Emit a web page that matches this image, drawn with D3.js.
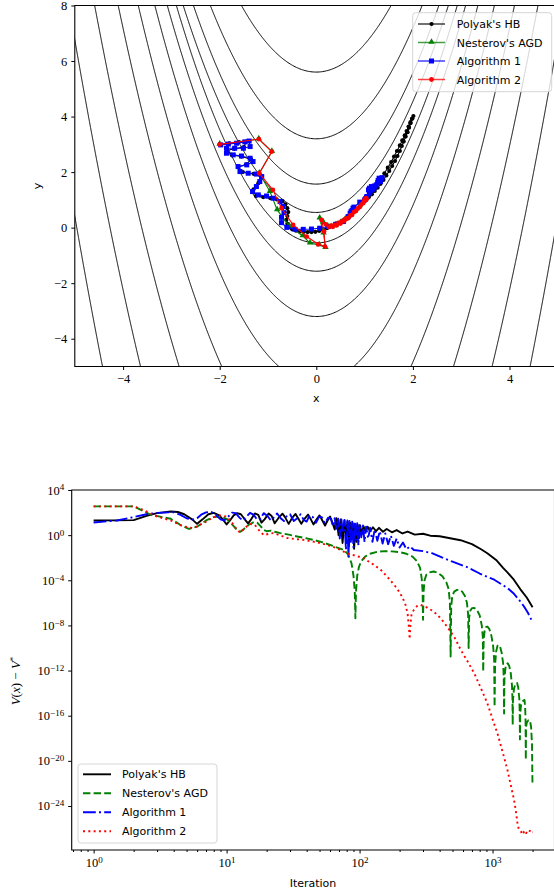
<!DOCTYPE html>
<html>
<head>
<meta charset="utf-8">
<script src="https://cdn.jsdelivr.net/npm/d3@7"></script>
<style>
  body { margin: 0; background: #fff; }
  svg { display: block; }
  .axis text { font-family: "Liberation Serif", "DejaVu Serif", serif; font-size: 12.5px; fill: #000; }
  .axis line { stroke: #000; }
  .label { font-family: "DejaVu Sans", sans-serif; font-size: 11px; fill: #000; }
  .legend text { font-family: "DejaVu Sans", sans-serif; font-size: 11px; fill: #000; }
</style>
</head>
<body>
<script>
// CHART DATA

// Contour levels of V(x, y) = (1 - x)^2 + 100 (y - x^2)^2
const contourLevels = [31, 247, 1025, 3140, 7810, 17080, 33300, 60500];

// Iterates in the (x, y) plane
const hbPath = [[-2.0,3.0],[-1.8,3.04],[-1.6,3.08],[-1.45,3.1],[-1.5,2.9],[-1.7,2.84],[-1.85,2.78],[-1.75,2.62],
  [-1.55,2.56],[-1.35,2.46],[-1.45,2.28],[-1.62,2.18],[-1.52,2.0],[-1.3,1.94],[-1.15,1.85],[-1.2,1.6],[-1.3,1.38],
  [-1.25,1.14],[-1.1,1.1],[-0.95,1.06],[-0.82,1.02],[-0.7,0.96],[-0.64,0.84],[-0.6,0.7],[-0.58,0.56],[-0.6,0.42],
  [-0.62,0.28],[-0.6,0.14],[-0.56,0.02],[-0.5,-0.06],[-0.42,-0.11],[-0.34,-0.14],[-0.26,-0.15],[-0.18,-0.16],
  [-0.1,-0.16],[-0.02,-0.15],[0.06,-0.12],[0.14,-0.08],[0.22,-0.02],[0.32,0.06],[0.45,0.17],[0.58,0.3],[0.7,0.46],
  [0.82,0.64],[0.94,0.86],[1.04,1.06],[1.12,1.24],[1.2,1.42],[1.27,1.6],[1.34,1.78],[1.41,1.96],[1.48,2.16],
  [1.55,2.36],[1.61,2.56],[1.67,2.76],[1.73,2.96],[1.78,3.14],[1.83,3.32],[1.87,3.48],[1.91,3.64],[1.95,3.8],
  [1.98,3.92],[2.01,4.02],[1.99,3.93],[1.95,3.76],[1.92,3.6],[1.89,3.44],[1.85,3.28],[1.81,3.1],[1.77,2.94],
  [1.73,2.76],[1.68,2.58],[1.63,2.4],[1.57,2.22],[1.51,2.04],[1.45,1.88],[1.39,1.72],[1.33,1.58],[1.27,1.44],
  [1.21,1.32],[1.15,1.2],[1.09,1.1],[1.04,1.04],[1.0,1.0]];
const agdPath = [[-2.0,3.0],[-1.19,3.19],[-0.92,2.74],[-1.18,1.96],[-0.96,1.3],[-0.81,0.64],[-0.56,0.06],
  [-0.28,-0.3],[-0.13,-0.56],[0.06,-0.62],[0.19,-0.72],[0.15,-0.2],[0.07,0.34],[0.15,0.18],[0.24,0.04],[0.32,0.03],
  [0.4,0.1],[0.5,0.18],[0.6,0.3],[0.7,0.44],[0.8,0.6],[0.9,0.78],[1.0,0.98],[1.0,1.0]];
const alg1Path = [[-1.98,2.98],[-1.82,3.01],[-1.65,3.04],[-1.48,3.09],[-1.39,3.12],[-1.37,2.92],[-1.51,2.86],
  [-1.69,2.86],[-1.86,2.86],[-1.86,2.68],[-1.72,2.62],[-1.55,2.58],[-1.37,2.5],[-1.31,2.38],[-1.44,2.26],[-1.62,2.2],
  [-1.58,2.02],[-1.41,1.96],[-1.24,1.93],[-1.13,1.84],[-1.17,1.66],[-1.24,1.48],[-1.32,1.3],[-1.2,1.18],[-1.03,1.14],
  [-0.89,1.06],[-0.75,0.94],[-0.69,0.76],[-0.67,0.54],[-0.72,0.37],[-0.72,0.18],[-0.61,0.01],[-0.44,-0.06],
  [-0.27,-0.06],[-0.1,-0.05],[0.07,-0.02],[0.25,0.04],[0.4,0.12],[0.56,0.22],[0.66,0.4],[0.74,0.62],[0.7,0.52],
  [0.76,0.7],[0.72,0.58],[0.78,0.74],[0.9,0.92],[1.04,1.1],[1.08,1.36],[1.14,1.48],[1.1,1.42],[1.16,1.4],[1.2,1.46],
  [1.27,1.62],[1.32,1.72],[1.36,1.8],[1.34,1.74],[1.28,1.7],[1.33,1.66],[1.3,1.78],[1.24,1.54],[1.2,1.5],[1.16,1.38],
  [1.12,1.32],[1.1,1.24],[1.05,1.12],[1.02,1.04],[1.0,1.0]];
const alg2Path = [[-2.0,3.0],[-1.19,3.19],[-0.92,2.74],[-1.18,1.96],[-0.9,1.36],[-0.72,0.7],[-0.48,0.1],
  [-0.2,-0.32],[0.04,-0.6],[0.18,-0.68],[0.16,-0.14],[0.11,0.28],[0.2,0.12],[0.26,0.02],[0.3,0.07],[0.34,0.03],
  [0.38,0.1],[0.42,0.08],[0.46,0.17],[0.5,0.15],[0.54,0.24],[0.58,0.24],[0.62,0.33],[0.66,0.34],[0.7,0.43],
  [0.74,0.46],[0.78,0.56],[0.82,0.6],[0.86,0.69],[0.9,0.74],[0.93,0.83],[0.97,0.88],[1.0,0.96],[1.04,1.02],
  [1.03,1.06],[1.01,1.01],[1.0,1.0]];

// V(x) - V* per iteration, stored as [iteration, log10 of the gap]
const hbGap = [[1,1.3],[2,1.33],[2.5,1.7],[3,1.95],[3.8,2.09],[4.3,2.05],[4.8,1.85],[5.5,1.4],[6,1.0],[6.6,1.4],
  [7.3,1.85],[8,1.97],[8.8,1.75],[9.5,1.3],[10,0.95],[10.6,1.3],[11.3,1.75],[12,1.95],[12.8,1.85],[13.6,1.45],
  [14.5,1.05],[15.3,1.4],[16.3,1.92],[17.3,1.8],[18.3,1.1],[19.3,1.4],[20.7,1.92],[21.8,1.7],[23,1.05],[24.5,1.5],
  [26.3,1.9],[27.5,1.6],[29.3,1.0],[31,1.5],[33,1.88],[34.5,1.5],[36.5,1.0],[38.5,1.45],[41,1.82],[43,1.4],
  [45,0.95],[47.5,1.4],[50,1.75],[52.5,1.3],[55,0.85],[57.5,1.3],[60,1.65],[62.5,1.1],[65,0.5],[67,1.5],[69.5,0.0],
  [72,1.4],[74.5,-0.7],[77,1.3],[79,-0.2],[81,1.2],[83,-1.0],[85,1.1],[87,-0.4],[89,1.05],[91,-1.2],[93,0.95],
  [95,-0.6],[97,0.9],[99,-0.3],[101,0.85],[104,0.1],[107,0.8],[111,0.3],[115,0.75],[120,0.35],[126,0.7],[133,0.35],
  [140,0.65],[150,0.3],[160,0.55],[175,0.25],[190,0.45],[210,0.15],[230,0.32],[260,0.05],[300,0.12],[340,-0.05],
  [400,-0.1],[480,-0.28],[575,-0.45],[700,-0.8],[820,-1.25],[913,-1.6],[1000,-1.95],[1076,-2.25],[1200,-2.9],
  [1294,-3.3],[1446,-3.95],[1620,-4.8],[1813,-5.55],[2000,-6.38]];
const agdGap = [[1,2.55],[2,2.55],[2.7,1.8],[3.8,1.45],[4.5,0.9],[5.2,0.55],[6,0.75],[7,1.3],[8,1.6],[9,1.65],
  [10,1.45],[11,0.95],[12,0.45],[12.7,0.3],[13.5,0.55],[14.6,0.9],[16,1.15],[17,1.1],[18,0.8],[19,0.45],[20,0.35],
  [21.5,0.4],[23,0.3],[25.4,0.18],[30,0.02],[34,-0.12],[40,-0.28],[45,-0.42],[52,-0.62],[60,-0.86],[68,-1.1],
  [76,-1.3],[82,-1.7],[87,-2.5],[90,-3.6],[92,-5],[93,-7.36],[94,-5],[96,-3.6],[99,-2.8],[103,-2.3],[110,-1.9],
  [120,-1.65],[135,-1.48],[155,-1.42],[175,-1.44],[200,-1.5],[225,-1.65],[250,-1.9],[270,-2.3],[285,-2.9],
  [293,-3.8],[298,-5],[300,-7.5],[303,-5],[308,-4],[318,-3.5],[335,-3.3],[361,-3.22],[390,-3.35],[420,-3.65],
  [450,-4.2],[468,-4.8],[478,-6],[484,-10.76],[489,-6.3],[498,-5.4],[515,-5.0],[540,-4.85],[565,-4.85],[590,-5.0],
  [620,-5.4],[642,-6.0],[655,-7.0],[661,-10.0],[667,-7.3],[680,-6.7],[700,-6.47],[730,-6.45],[760,-6.6],[800,-7.1],
  [830,-8.0],[845,-9.0],[851,-12.1],[858,-9.2],[872,-8.5],[890,-8.15],[915,-8.1],[945,-8.3],[980,-8.9],[1010,-9.8],
  [1028,-11],[1036,-15.2],[1045,-11.5],[1065,-10.3],[1090,-9.8],[1110,-9.73],[1140,-9.9],[1170,-10.4],[1200,-11.3],
  [1214,-12.5],[1221,-15.8],[1229,-12.8],[1250,-11.8],[1275,-11.4],[1300,-11.35],[1335,-11.6],[1370,-12.2],
  [1400,-13.3],[1412,-14.5],[1418,-16.8],[1425,-14.6],[1450,-13.6],[1490,-13.15],[1530,-13.1],[1560,-13.5],
  [1590,-14.5],[1600,-15.6],[1607,-18.1],[1615,-15.8],[1640,-15],[1690,-14.7],[1740,-14.6],[1760,-15.3],
  [1772,-16.5],[1779,-19.9],[1787,-17],[1810,-16.6],[1860,-16.4],[1910,-16.4],[1950,-17],[1980,-18.5],[1997,-22.1]];
const alg1Gap = [[1,1.12],[1.5,1.3],[2,1.6],[2.5,1.85],[3,1.97],[4,2.04],[4.5,1.8],[5,1.5],[5.5,1.38],[6,1.5],
  [6.5,1.85],[7,2.02],[7.7,2.05],[8.3,1.8],[9,1.4],[9.6,1.3],[10.3,1.65],[11,2.0],[11.7,1.95],[12.5,1.55],[13.2,1.3],
  [14,1.6],[15,1.98],[16,1.8],[17,1.35],[18,1.45],[19,1.95],[20.3,1.7],[21.5,1.3],[22.8,1.6],[24,1.92],[25.5,1.5],
  [27,1.25],[28.5,1.75],[30,1.85],[32,1.25],[34,1.5],[36,1.85],[38,1.35],[40,1.2],[42,1.75],[44.5,1.6],[47,1.1],
  [49.5,1.6],[52,1.6],[55,1.05],[58,1.55],[61,1.45],[63,0.8],[65,1.5],[67,0.4],[69,1.45],[71,-0.3],[73,1.4],
  [75,0.2],[77,1.35],[79,-1.3],[81,1.3],[82.5,-2.0],[84,1.25],[86,-0.6],[88,1.2],[90,-1.1],[92,1.15],[94,-0.4],
  [96,1.05],[98,-0.9],[100,1.0],[103,-0.2],[106,0.85],[109,-0.6],[112,0.75],[116,-0.3],[120,0.65],[125,-0.6],
  [130,0.5],[136,-0.5],[142,0.35],[149,-0.75],[156,0.15],[164,-0.8],[172,-0.05],[181,-0.95],[190,-0.3],[200,-1.1],
  [212,-0.65],[225,-1.25],[240,-1.0],[256,-1.32],[300,-1.42],[350,-1.6],[420,-2.0],[500,-2.35],[650,-2.85],
  [800,-3.4],[1030,-3.95],[1300,-4.7],[1450,-5.2],[1600,-5.8],[1720,-6.3],[1850,-6.9],[2000,-7.72]];
const alg2Gap = [[1,2.55],[2,2.55],[2.4,2.2],[3,1.65],[3.8,1.3],[4.7,0.78],[5.6,0.62],[6.7,1.06],[8,1.6],[9,1.75],
  [10,1.65],[11,1.1],[12,0.45],[12.7,0.2],[13.6,0.6],[15,1.0],[16.3,0.9],[17.5,0.45],[19,0.0],[20.5,0.1],[22.4,0.18],
  [25,0.0],[28.5,-0.25],[33,-0.35],[38,-0.42],[45,-0.58],[50.7,-0.71],[60,-0.95],[67.5,-1.15],[80,-1.6],[95,-1.85],
  [107,-2.04],[128,-2.63],[145,-3.1],[161,-3.67],[191,-4.7],[210,-5.5],[222,-6.2],[230,-7.0],[236,-8.4],[238,-9.2],
  [241,-8.0],[246,-7.0],[256,-6.62],[270,-6.3],[287,-6.18],[320,-6.4],[361,-6.77],[410,-7.4],[455,-8.1],[520,-9.1],
  [577,-10.17],[650,-11.2],[728,-12.23],[820,-13.6],[914,-14.9],[1000,-16.3],[1088,-17.55],[1190,-19.2],
  [1294,-20.8],[1380,-22.3],[1452,-23.47],[1500,-24.5],[1540,-25.53],[1580,-26.1],[1632,-26.25],[1660,-26.4],
  [1690,-26.2],[1720,-26.35],[1750,-26.2],[1790,-26.4],[1830,-26.25],[1870,-26.35],[1910,-26.2],[1950,-26.4],
  [2000,-26.3]];

const methodNames = ["Polyak's HB", "Nesterov's AGD", "Algorithm 1", "Algorithm 2"];

// Tick values
const planeXTicks = [-4, -2, 0, 2, 4];
const planeYTicks = [-4, -2, 0, 2, 4, 6, 8];
const gapXTicks = [1, 10, 100, 1000];
const gapXMinorTicks = [0.7, 0.8, 0.9, 2, 3, 4, 5, 6, 7, 8, 9, 20, 30, 40, 50, 60, 70, 80, 90,
  200, 300, 400, 500, 600, 700, 800, 900, 2000];
const gapYTickExps = [4, 0, -4, -8, -12, -16, -20, -24];

// LAYOUT AND STYLE
const width = 554;
const height = 892;
const plane = {left: 74.8, right: 557.8, top: 5.5, bottom: 366.5};
const gap = {left: 71.7, right: 554.5, top: 490, bottom: 850};
const colors = ['#000000', '#008000', '#0000ff', '#ff0000'];
const dashes = [null, '7.4,3.2', '12.8,3.2,2,3.2', '2,3.3'];

// Function whose level sets are drawn
var rosenbrock = function(x, y){
  return (1 - x) * (1 - x) + 100 * (y - x * x) * (y - x * x);
}

var minus = function(v){ return v < 0 ? '\u2212' + Math.abs(v) : String(v); }

var svg = d3.select('body').append('svg')
  .attr('width', width)
  .attr('height', height);

var defs = svg.append('defs');
defs.append('clipPath').attr('id', 'clipPlane').append('rect')
  .attr('x', plane.left).attr('y', plane.top)
  .attr('width', plane.right - plane.left).attr('height', plane.bottom - plane.top);
defs.append('clipPath').attr('id', 'clipGap').append('rect')
  .attr('x', gap.left).attr('y', gap.top)
  .attr('width', gap.right - gap.left).attr('height', gap.bottom - gap.top);

// ---------- TOP: level sets and iterates ----------
var xPlane = d3.scaleLinear().domain([-5, 5]).range([plane.left, plane.right]);
var yPlane = d3.scaleLinear().domain([-5, 8]).range([plane.bottom, plane.top]);

// sample the function on a grid a bit larger than the axes, then clip
const nx = 440, ny = 560;
const gx0 = -5.5, gx1 = 5.5, gy0 = -5.5, gy1 = 8.5;
const gdx = (gx1 - gx0) / (nx - 1), gdy = (gy1 - gy0) / (ny - 1);
var grid = new Float64Array(nx * ny);
for (var j = 0; j < ny; j++) {
  for (var i = 0; i < nx; i++) {
    grid[j * nx + i] = rosenbrock(gx0 + i * gdx, gy0 + j * gdy);
  }
}
var isolines = d3.contours().size([nx, ny]).thresholds(contourLevels)(grid);
var gridToPixels = d3.geoTransform({
  point: function(gx, gy){
    this.stream.point(xPlane(gx0 + (gx - 0.5) * gdx), yPlane(gy0 + (gy - 0.5) * gdy));
  }
});

svg.append('g')
  .attr('clip-path', 'url(#clipPlane)')
  .selectAll('path')
  .data(isolines)
  .join('path')
  .attr('d', d3.geoPath(gridToPixels))
  .attr('fill', 'none')
  .attr('stroke', '#000')
  .attr('stroke-width', 1);

var planeLine = d3.line().x(d => xPlane(d[0])).y(d => yPlane(d[1]));
var paths = [hbPath, agdPath, alg1Path, alg2Path];
var trajG = svg.append('g').attr('clip-path', 'url(#clipPlane)');

var drawMarker = function(sel, k, x, y){
  if (k === 0) {
    sel.append('circle').attr('cx', x).attr('cy', y).attr('r', 2.1).attr('fill', colors[k]);
  } else if (k === 1) {
    sel.append('path').attr('d', d3.symbol().type(d3.symbolTriangle).size(18)())
      .attr('transform', 'translate(' + x + ',' + (y - 0.5) + ')').attr('fill', colors[k]);
  } else if (k === 2) {
    sel.append('rect').attr('x', x - 2.5).attr('y', y - 2.5).attr('width', 5).attr('height', 5).attr('fill', colors[k]);
  } else {
    sel.append('circle').attr('cx', x).attr('cy', y).attr('r', 2.4).attr('fill', colors[k]);
  }
}

paths.forEach((pts, k) => {
  var g = trajG.append('g');
  g.append('path')
    .attr('d', planeLine(pts))
    .attr('fill', 'none')
    .attr('stroke', colors[k])
    .attr('stroke-width', 1.1);
  pts.forEach(p => drawMarker(g, k, xPlane(p[0]), yPlane(p[1])));
});

// axes
svg.append('g').classed('axis', true)
  .attr('transform', 'translate(0,' + plane.bottom + ')')
  .call(d3.axisBottom(xPlane).tickValues(planeXTicks).tickFormat(minus).tickSize(3.5).tickPadding(4))
  .call(g => g.select('.domain').remove());
svg.append('g').classed('axis', true)
  .attr('transform', 'translate(' + plane.left + ',0)')
  .call(d3.axisLeft(yPlane).tickValues(planeYTicks).tickFormat(minus).tickSize(3.5).tickPadding(4))
  .call(g => g.select('.domain').remove());

svg.append('path')
  .attr('d', 'M' + plane.right + ',' + plane.top + 'H' + plane.left + 'V' + plane.bottom + 'H' + plane.right)
  .attr('fill', 'none').attr('stroke', '#000').attr('stroke-width', 1.1);

svg.append('text').classed('label', true)
  .attr('x', xPlane(0)).attr('y', 402).attr('text-anchor', 'middle').text('x');
svg.append('text').classed('label', true)
  .attr('transform', 'translate(41,' + yPlane(1.5) + ') rotate(-90)')
  .attr('text-anchor', 'middle').text('y');

// legend (top)
var legendTop = svg.append('g').classed('legend', true);
legendTop.append('rect')
  .attr('x', 412.7).attr('y', 12.7).attr('width', 139).attr('height', 79).attr('rx', 3)
  .attr('fill', '#fff').attr('fill-opacity', 0.8).attr('stroke', '#d6d6d6');
methodNames.forEach((name, k) => {
  var yy = 24 + k * 18.5;
  legendTop.append('line').attr('x1', 418).attr('x2', 445).attr('y1', yy).attr('y2', yy)
    .attr('stroke', colors[k]).attr('stroke-width', 1.5).attr('stroke-opacity', 0.75);
  drawMarker(legendTop, k, 431.5, yy);
  legendTop.append('text').attr('x', 456.7).attr('y', yy + 4).text(name);
});

// ---------- BOTTOM: gap against iteration ----------
var xGap = d3.scaleLog().domain([Math.pow(10, -0.165), Math.pow(10, 3.466)]).range([gap.left, gap.right]);
var yGap = d3.scaleLog().domain([Math.pow(10, -27.9), 1e4]).range([gap.bottom, gap.top]);

var gapLine = d3.line().x(d => xGap(d[0])).y(d => yGap(Math.pow(10, d[1])));
var gaps = [hbGap, agdGap, alg1Gap, alg2Gap];
var gapG = svg.append('g').attr('clip-path', 'url(#clipGap)');
gaps.forEach((series, k) => {
  gapG.append('path')
    .attr('d', gapLine(series))
    .attr('fill', 'none')
    .attr('stroke', colors[k])
    .attr('stroke-width', 1.9)
    .attr('stroke-dasharray', dashes[k])
    .attr('stroke-linejoin', 'round');
});

var powerLabel = function(sel, exp){
  sel.text(null);
  sel.append('tspan').text('10');
  sel.append('tspan').attr('dy', '-0.45em').style('font-size', '9px').text(minus(exp));
}

svg.append('g').classed('axis', true)
  .attr('transform', 'translate(0,' + gap.bottom + ')')
  .call(d3.axisBottom(xGap).tickValues(gapXTicks).tickSize(3.5).tickPadding(5))
  .call(g => g.select('.domain').remove())
  .call(g => g.selectAll('.tick text').each(function(d){ powerLabel(d3.select(this), Math.round(Math.log10(d))); }));
svg.append('g').classed('axis', true)
  .attr('transform', 'translate(0,' + gap.bottom + ')')
  .call(d3.axisBottom(xGap).tickValues(gapXMinorTicks).tickSize(2).tickFormat(''))
  .call(g => g.select('.domain').remove());
svg.append('g').classed('axis', true)
  .attr('transform', 'translate(' + gap.left + ',0)')
  .call(d3.axisLeft(yGap).tickValues(gapYTickExps.map(e => Math.pow(10, e))).tickSize(3.5).tickPadding(4))
  .call(g => g.select('.domain').remove())
  .call(g => g.selectAll('.tick text').each(function(d){ powerLabel(d3.select(this), Math.round(Math.log10(d))); }));

svg.append('path')
  .attr('d', 'M' + gap.right + ',' + gap.top + 'H' + gap.left + 'V' + gap.bottom + 'H' + gap.right + 'V' + gap.top)
  .attr('fill', 'none').attr('stroke', '#000').attr('stroke-width', 1.1);

svg.append('text').classed('label', true)
  .attr('x', 313).attr('y', 887).attr('text-anchor', 'middle').text('Iteration');

var yLab = svg.append('text')
  .attr('transform', 'translate(20,681) rotate(-90)')
  .attr('text-anchor', 'middle')
  .style('font-family', '"Liberation Serif", serif')
  .style('font-size', '13px');
yLab.append('tspan').style('font-style', 'italic').text('V');
yLab.append('tspan').text('(');
yLab.append('tspan').style('font-style', 'italic').text('x');
yLab.append('tspan').text(') \u2212 ');
yLab.append('tspan').style('font-style', 'italic').text('V');
yLab.append('tspan').attr('dy', '-0.45em').style('font-size', '9px').text('*');

// legend (bottom)
var legendGap = svg.append('g').classed('legend', true);
legendGap.append('rect')
  .attr('x', 78).attr('y', 764).attr('width', 139).attr('height', 79).attr('rx', 3)
  .attr('fill', '#fff').attr('fill-opacity', 0.8).attr('stroke', '#d6d6d6');
methodNames.forEach((name, k) => {
  var yy = 774.3 + k * 19;
  legendGap.append('line').attr('x1', 83).attr('x2', 111).attr('y1', yy).attr('y2', yy)
    .attr('stroke', colors[k]).attr('stroke-width', 1.9).attr('stroke-dasharray', dashes[k]);
  legendGap.append('text').attr('x', 122).attr('y', yy + 4).text(name);
});
</script>
</body>
</html>
